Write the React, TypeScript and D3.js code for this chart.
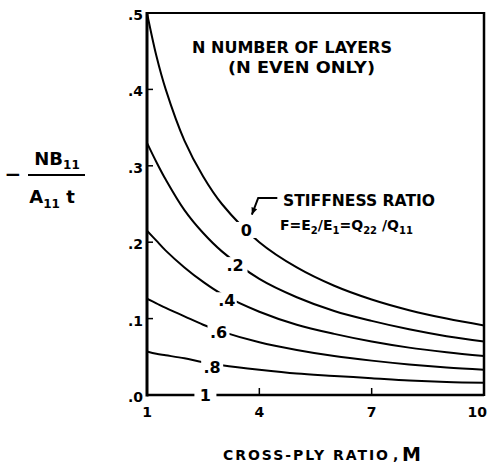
import React from "react";
import * as d3 from "d3";

const M_VALUES = [1, 1.25, 1.5, 2, 2.5, 3, 4, 5, 6, 7, 8, 9, 10];
const F0_VALUES = [0.5, 0.444, 0.4, 0.333, 0.286, 0.25, 0.2, 0.167, 0.143, 0.125, 0.111, 0.1, 0.091];
const F02_VALUES = [0.33, 0.305, 0.282, 0.242, 0.212, 0.188, 0.152, 0.128, 0.11, 0.097, 0.086, 0.077, 0.07];
const F04_VALUES = [0.215, 0.202, 0.189, 0.167, 0.148, 0.132, 0.109, 0.092, 0.08, 0.07, 0.062, 0.056, 0.051];
const F06_VALUES = [0.126, 0.12, 0.114, 0.103, 0.092, 0.083, 0.069, 0.059, 0.051, 0.045, 0.04, 0.036, 0.033];
const F08_VALUES = [0.057, 0.054, 0.052, 0.048, 0.043, 0.039, 0.033, 0.028, 0.025, 0.022, 0.019, 0.017, 0.016];

const SERIES = [F0_VALUES, F02_VALUES, F04_VALUES, F06_VALUES, F08_VALUES];
const CURVE_LABELS = ["0", ".2", ".4", ".6", ".8", "1"];
const LABEL_M = [3.65, 3.35, 3.13, 2.91, 2.74, 2.56];
const LABEL_V = [0.216, 0.17, 0.124, 0.083, 0.037, 0.0];
const LABEL_GAP = [22, 25, 20, 22, 22, 22];

const X_TICKS = [1, 4, 7, 10];
const X_TICK_LABELS = ["1", "4", "7", "10"];
const Y_TICKS = [0, 0.1, 0.2, 0.3, 0.4, 0.5];
const Y_TICK_LABELS = [".0", ".1", ".2", ".3", ".4", ".5"];

const FONT = "'DejaVu Sans', sans-serif";

export default function App() {
  const x = d3.scaleLinear().domain([1, 10]).range([147, 484]);
  const y = d3.scaleLinear().domain([0, 0.5]).range([395, 13]);
  const line = d3
    .line<number>()
    .x((_, i) => x(M_VALUES[i]))
    .y((d) => y(d))
    .curve(d3.curveCatmullRom.alpha(0.5));

  const arrowPts: [number, number][] = [
    [4.48, 0.258],
    [3.97, 0.258],
    [3.8, 0.236],
  ];
  const arrowPath = d3.line()(arrowPts.map(([m, v]) => [x(m), y(v)]) as [number, number][]);
  const tip = [x(3.8), y(0.236)];
  const prev = [x(3.97), y(0.258)];
  const ang = Math.atan2(tip[1] - prev[1], tip[0] - prev[0]);
  const ah = 7;
  const aw = 3;
  const head = [
    [tip[0], tip[1]],
    [tip[0] - ah * Math.cos(ang) + aw * Math.sin(ang), tip[1] - ah * Math.sin(ang) - aw * Math.cos(ang)],
    [tip[0] - ah * Math.cos(ang) - aw * Math.sin(ang), tip[1] - ah * Math.sin(ang) + aw * Math.cos(ang)],
  ];

  return (
    <svg
      width={489}
      height={469}
      style={{ position: "absolute", left: 0, top: 0, background: "#fff" }}
      fontFamily={FONT}
      fontWeight="bold"
    >
      <rect x={0} y={0} width={489} height={469} fill="#fff" />
      {SERIES.map((s, i) => (
        <path key={i} d={line(s) || ""} fill="none" stroke="#000" strokeWidth={2} />
      ))}
      <line x1={x(1)} x2={x(10)} y1={y(0.5)} y2={y(0.5)} stroke="#000" strokeWidth={2} />
      <line x1={x(10)} x2={x(10)} y1={y(0.5) - 1} y2={y(0) + 1} stroke="#000" strokeWidth={2.5} />
      <line x1={x(1)} x2={x(10)} y1={y(0)} y2={y(0)} stroke="#000" strokeWidth={2.5} />
      <line x1={x(1)} x2={x(1)} y1={y(0.5) - 1} y2={y(0) + 1.5} stroke="#000" strokeWidth={3} />
      {Y_TICKS.slice(1, 5).map((t) => (
        <line key={t} x1={x(1)} x2={x(1) + 6} y1={y(t)} y2={y(t)} stroke="#000" strokeWidth={1.5} />
      ))}
      {X_TICKS.slice(1, 3).map((t) => (
        <line key={t} x1={x(t)} x2={x(t)} y1={y(0)} y2={y(0) - 7} stroke="#000" strokeWidth={1.5} />
      ))}
      {Y_TICKS.map((t, i) => (
        <text key={t} x={x(1) - 4} y={y(t) + 7} textAnchor="end" fontSize={14}>
          {Y_TICK_LABELS[i]}
        </text>
      ))}
      {X_TICKS.map((t, i) => (
        <text
          key={t}
          x={i === 3 ? 487 : x(t)}
          y={y(0) + 22}
          textAnchor={i === 3 ? "end" : "middle"}
          fontSize={14}
        >
          {X_TICK_LABELS[i]}
        </text>
      ))}
      {CURVE_LABELS.map((lab, i) => (
        <g key={lab}>
          <rect
            x={x(LABEL_M[i]) - LABEL_GAP[i] / 2}
            y={y(LABEL_V[i]) - 8}
            width={LABEL_GAP[i]}
            height={16}
            fill="#fff"
          />
          <text x={x(LABEL_M[i])} y={y(LABEL_V[i]) + 6} textAnchor="middle" fontSize={16}>
            {lab}
          </text>
        </g>
      ))}
      <path d={arrowPath || ""} fill="none" stroke="#000" strokeWidth={2} />
      <polygon points={head.map((p) => p.join(",")).join(" ")} fill="#000" />
      <text x={192} y={53} fontSize={15} textLength={200} lengthAdjust="spacingAndGlyphs">
        N  NUMBER OF LAYERS
      </text>
      <text x={228} y={73} fontSize={15} textLength={147} lengthAdjust="spacingAndGlyphs">
        (N EVEN ONLY)
      </text>
      <text x={283} y={206} fontSize={15} textLength={152} lengthAdjust="spacingAndGlyphs">
        STIFFNESS RATIO
      </text>
      <text x={280} y={230} fontSize={14}>
        F=E<tspan fontSize={10} dy={4}>2</tspan>
        <tspan dy={-4}>/E</tspan>
        <tspan fontSize={10} dy={4}>1</tspan>
        <tspan dy={-4}>=Q</tspan>
        <tspan fontSize={10} dy={4}>22</tspan>
        <tspan dy={-4}> /Q</tspan>
        <tspan fontSize={10} dy={4}>11</tspan>
      </text>
      <text x={13} y={181} textAnchor="middle" fontSize={20}>
        −
      </text>
      <text x={57} y={165} textAnchor="middle" fontSize={18}>
        NB<tspan fontSize={12} dy={4}>11</tspan>
      </text>
      <line x1={28} x2={85} y1={175} y2={175} stroke="#000" strokeWidth={2} />
      <text x={52} y={203} textAnchor="middle" fontSize={18}>
        A<tspan fontSize={12} dy={5}>11</tspan>
        <tspan dy={-5}> t</tspan>
      </text>
      <text x={223} y={460} fontSize={14} textLength={165} lengthAdjust="spacing">
        CROSS-PLY RATIO
      </text>
      <text x={393} y={460} fontSize={14}>
        ,
      </text>
      <text x={402} y={461} fontSize={19}>
        M
      </text>
    </svg>
  );
}
